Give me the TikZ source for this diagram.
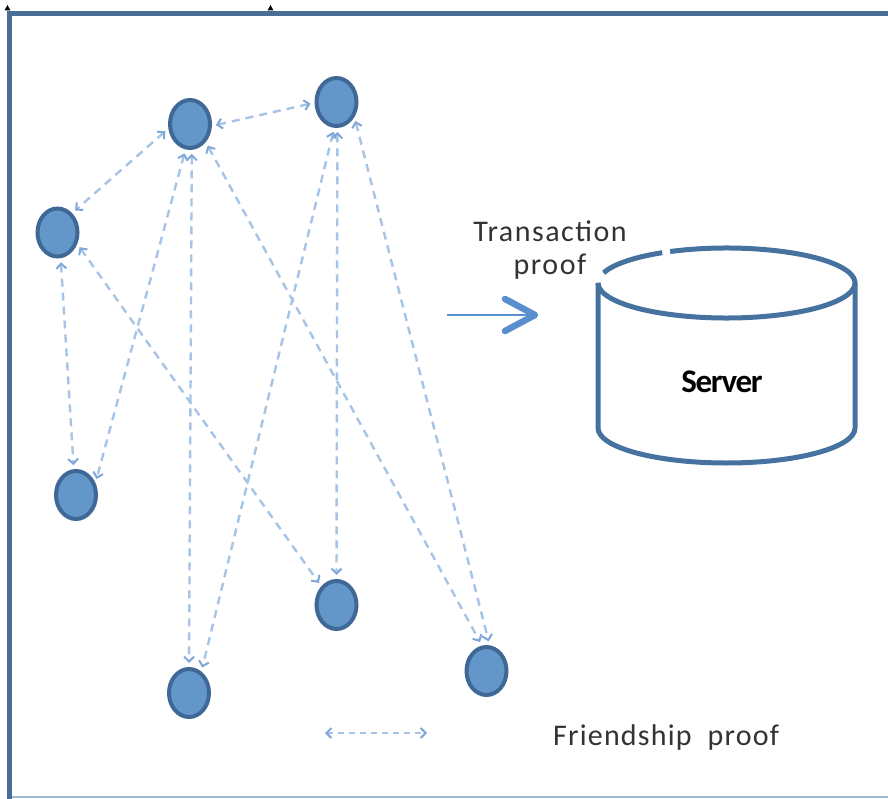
\documentclass[tikz,border=0pt]{standalone}
\usepackage{fontspec}
\setmainfont{Carlito}
\usetikzlibrary{shapes.geometric,arrows.meta}
\definecolor{frameblue}{HTML}{4A6F97}
\definecolor{framelight}{HTML}{A3B7CE}
\definecolor{nodefill}{HTML}{6397CA}
\definecolor{nodeedge}{HTML}{3F6896}
\definecolor{linkblue}{HTML}{A6C4E6}
\definecolor{tipblue}{HTML}{7FA8D8}
\definecolor{serverblue}{HTML}{46729F}
\definecolor{sendblue}{HTML}{5A8FCD}
\definecolor{labelgray}{HTML}{333333}

\begin{document}
\begin{tikzpicture}[x=1pt,y=-1pt,
  peer/.style={ellipse, draw=nodeedge, fill=nodefill, line width=4pt,
    minimum width=40pt, minimum height=48pt, inner sep=0pt},
  friend/.style={draw=linkblue, line width=2.4pt, dash pattern=on 8pt off 6pt,
    {Straight Barb[length=5pt,width=10pt,line width=2pt,color=tipblue]}-{Straight Barb[length=5pt,width=10pt,line width=2pt,color=tipblue]},
    shorten <=4pt, shorten >=4pt},
  label/.style={text=labelgray, inner sep=0pt},
  server/.style={draw=serverblue, line width=5pt},
]
% canvas
\useasboundingbox (0,0) rectangle (888,799);
\fill[white] (0,0) rectangle (888,799);

% frame
\draw[framelight, line width=2pt] (9.5,797) -- (888,797);
\draw[frameblue, line width=5.5pt] (9.5,799) -- (9.5,13.5) -- (888,13.5);
\fill[black] (4.5,10.5) -- (7.5,5) -- (10.5,10.5) -- cycle;
\fill[black] (267.5,10.5) -- (270.5,5) -- (273.5,10.5) -- cycle;

% peers
\node[peer] (n1) at (190,124) {};
\node[peer] (n2) at (336.5,102) {};
\node[peer] (n3) at (57.5,232.5) {};
\node[peer] (n4) at (76,495) {};
\node[peer] (n5) at (336.5,605) {};
\node[peer] (n6) at (189,693) {};
\node[peer] (n7) at (486.5,671) {};

% friendship proofs
\draw[friend] (n1.-5) -- (n2.182);
\draw[friend] (n1.192) -- (n3.53);
\draw[friend] (n3.-83) -- (n4.95);
\draw[friend] (n1.-100) -- (n4.32);
\draw[friend] (n1.-86) -- (n6.90);
\draw[friend] (n1.-49) -- (n7.100);
\draw[friend] (n2.-95) -- (n6.60);
\draw[friend] (n2.-88) -- (n5.90);
\draw[friend] (n2.-40) -- (n7.83);
\draw[friend] (n3.-30) -- (n5.129);

% transaction proof arrow
\coordinate (sendA) at (447,315);
\coordinate (sendB) at (533,315);
\draw[sendblue, line width=2pt] (sendA) -- (sendB);
\draw[sendblue, line width=6.5pt, line cap=round, line join=round]
  (505,299) -- (535,315) -- (505,331);

\node[label, anchor=base, font=\fontsize{30}{33}\selectfont\addfontfeatures{LetterSpace=5}] (tx1) at (550,242) {Transaction};
\node[label, anchor=base, font=\fontsize{30}{33}\selectfont\addfontfeatures{LetterSpace=5}] (tx2) at (550,275) {proof};

% server cylinder
\draw[server] (726.5,283) ++(197:128.5 and 35) arc[start angle=197, end angle=240, x radius=128.5, y radius=35];
\draw[server] (726.5,283) ++(244:128.5 and 35) arc[start angle=244, end angle=540, x radius=128.5, y radius=35];
\draw[server] (598,283) -- (598,428)
  arc[start angle=180, end angle=0, x radius=128.5, y radius=35] -- (855,283);
\node[font=\fontsize{33}{36}\selectfont\bfseries\addfontfeatures{LetterSpace=-4}, inner sep=0pt, anchor=base] (srv) at (722,392) {Server};

% legend
\coordinate (legA) at (325,733);
\coordinate (legB) at (427,733);
\draw[friend, line width=1.6pt, dash pattern=on 6pt off 5pt, shorten <=0pt, shorten >=0pt] (legA) -- (legB);
\node[label, anchor=base west, font=\fontsize{30}{33}\selectfont\addfontfeatures{LetterSpace=4}] (leg) at (553,745) {Friendship\hspace{16pt}proof};
\end{tikzpicture}
\end{document}
